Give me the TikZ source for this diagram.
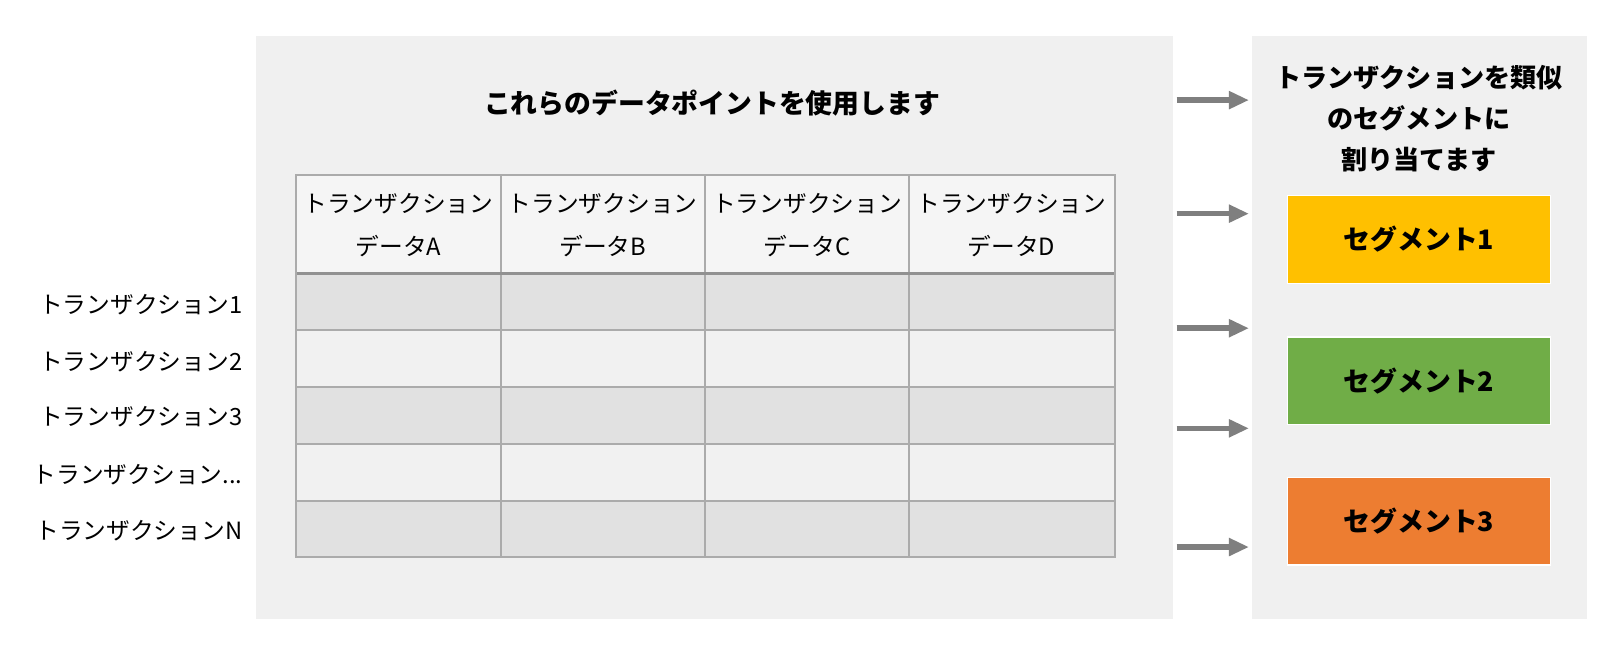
\documentclass[tikz,border=0pt]{standalone}
\usepackage{fontspec}
\setmainfont{Noto Sans CJK JP}
\usetikzlibrary{arrows.meta}
\definecolor{panelbg}{HTML}{F0F0F0}
\definecolor{rowdark}{HTML}{E1E1E1}
\definecolor{rowlight}{HTML}{F1F1F1}
\definecolor{headbg}{HTML}{F5F5F5}
\definecolor{gridc}{HTML}{ABABAB}
\definecolor{arrowc}{HTML}{7F7F7F}
\definecolor{seg1}{HTML}{FFC000}
\definecolor{seg2}{HTML}{70AD47}
\definecolor{seg3}{HTML}{ED7D31}
\begin{document}
\begin{tikzpicture}[x=1pt,y=-1pt,scale=1.032,every node/.style={transform shape},
  panel/.style={fill=panelbg,draw=none,anchor=north west,inner sep=0pt},
  headtxt/.style={align=center,font=\fontsize{23}{42}\selectfont,inner sep=0pt},
  rowlab/.style={anchor=east,font=\fontsize{23}{28}\selectfont,inner sep=0pt},
  segbox/.style={draw=white,line width=1.5pt,minimum width=255pt,minimum height=85pt,font=\bfseries\fontsize{26}{30}\selectfont,inner sep=0pt},
  flow/.style={draw=arrowc,line width=5.5pt,-{Triangle[length=20pt,width=17pt]},shorten >=2pt}
]
\useasboundingbox[fill=white] (0,0) rectangle (1565.9,635.7);

% panels
\node[panel,minimum width=888pt,minimum height=565pt] (L) at (248,35) {};
\node[panel,minimum width=325pt,minimum height=565pt] (R) at (1213,35) {};

% left title
\node[font=\bfseries\fontsize{26}{30}\selectfont,inner sep=0pt] (title) at (690,100) {これらのデータポイントを使用します};

% table fills
\fill[headbg] (287,170) rectangle (1080,265);
\fill[rowdark] (287,265) rectangle (1080,320);
\fill[rowlight] (287,320) rectangle (1080,375);
\fill[rowdark] (287,375) rectangle (1080,430);
\fill[rowlight] (287,430) rectangle (1080,485);
\fill[rowdark] (287,485) rectangle (1080,540);
% grid
\foreach \yy in {320,375,430,485}{\draw[gridc,line width=2pt] (287,\yy) -- (1080,\yy);}
\foreach \xx in {485,683,881}{\draw[gridc,line width=2pt] (\xx,170) -- (\xx,540);}
\draw[gridc!85!black,line width=3pt] (287,265) -- (1080,265);
\draw[gridc,line width=2pt] (287,170) rectangle (1080,540);

% header texts
\node[headtxt] (hA) at (386,218) {トランザクション\\データA};
\node[headtxt] (hB) at (584,218) {トランザクション\\データB};
\node[headtxt] (hC) at (782,218) {トランザクション\\データC};
\node[headtxt] (hD) at (980,218) {トランザクション\\データD};

% row labels
\node[rowlab] (t1) at (235,295) {トランザクション1};
\node[rowlab] (t2) at (235,350) {トランザクション2};
\node[rowlab] (t3) at (235,404) {トランザクション3};
\node[rowlab] (t4) at (235,460) {トランザクション...};
\node[rowlab] (tN) at (235,514) {トランザクションN};

% right title
\node[align=center,font=\bfseries\fontsize{25.3}{40}\selectfont,inner sep=0pt] (rtitle) at (1375,115) {トランザクションを類似\\のセグメントに\\割り当てます};

% segments
\node[segbox,fill=seg1] (s1) at (1375,232) {セグメント1};
\node[segbox,fill=seg2] (s2) at (1375,369) {セグメント2};
\node[segbox,fill=seg3] (s3) at (1375,505) {セグメント3};

% arrows
\foreach \yy/\nm in {97/a,207/b,318/c,415/d,530/e}{
  \coordinate (src\nm) at (1140,\yy);
  \coordinate (dst\nm) at (1212,\yy);
  \draw[flow] (src\nm) -- (dst\nm);
}
\end{tikzpicture}
\end{document}
